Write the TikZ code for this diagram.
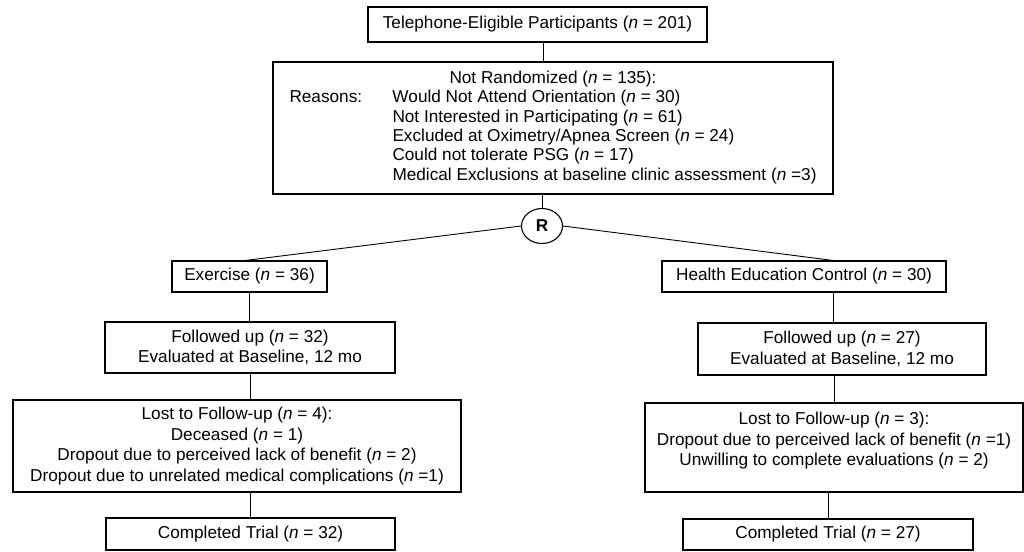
\documentclass[tikz,border=0pt]{standalone}
\usepackage{fontspec}
\setmainfont{Liberation Sans}
\usetikzlibrary{shapes.geometric}
\newcommand{\nn}{\textit{n}}
\begin{document}
\begin{tikzpicture}[x=1pt,y=-1pt,
  box/.style={draw,line width=1.1pt,inner sep=0pt,align=center,font=\fontsize{17.2}{20.5}\selectfont},
  link/.style={line width=0.9pt}]
\useasboundingbox (0,0) rectangle (1024,551);
\node[box,minimum width=339,minimum height=35] (tel) at (537.5,24.5) {Telephone-Eligible Participants (\nn{} = 201)};
\node[box,minimum width=560,minimum height=132,font=\fontsize{17.2}{19.4}\selectfont] (nr) at (553,128)
  {\begin{tabular}{@{}p{103pt}@{}l@{}}
   \multicolumn{2}{c}{Not Randomized (\nn{} = 135):}\\
   Reasons: & Would Not Attend Orientation (\nn{} = 30)\\
            & Not Interested in Participating (\nn{} = 61)\\
            & Excluded at Oximetry/Apnea Screen (\nn{} = 24)\\
            & Could not tolerate PSG (\nn{} = 17)\\
            & Medical Exclusions at baseline clinic assessment (\nn{} =3)
   \end{tabular}};
\node[draw,ellipse,line width=1.1pt,minimum width=41,minimum height=35,inner sep=0pt,font=\bfseries\fontsize{17.2}{20}\selectfont] (rand) at (542,226) {R};
% exercise arm
\node[box,minimum width=155,minimum height=31] (ex) at (249.5,276.5) {Exercise (\nn{} = 36)};
\node[box,minimum width=290,minimum height=51] (fuL) at (250,347.5) {Followed up (\nn{} = 32)\\Evaluated at Baseline, 12 mo};
\node[box,minimum width=448,minimum height=92] (lostL) at (237,446) {Lost to Follow-up (\nn{} = 4):\\Deceased (\nn{} = 1)\\Dropout due to perceived lack of benefit (\nn{} = 2)\\Dropout due to unrelated medical complications (\nn{} =1)};
\node[box,minimum width=289,minimum height=32] (compL) at (250.5,534) {Completed Trial (\nn{} = 32)};
% control arm
\node[box,minimum width=284,minimum height=31] (hec) at (804,276.5) {Health Education Control (\nn{} = 30)};
\node[box,minimum width=288,minimum height=52] (fuR) at (842,349) {Followed up (\nn{} = 27)\\Evaluated at Baseline, 12 mo};
\node[box,minimum width=378,minimum height=89] (lostR) at (834,447.5) {Lost to Follow-up (\nn{} = 3):\\Dropout due to perceived lack of benefit (\nn{} =1)\\Unwilling to complete evaluations (\nn{} = 2)\\[-4pt]\mbox{}};
\node[box,minimum width=290,minimum height=31] (compR) at (828,534.5) {Completed Trial (\nn{} = 27)};
% connectors
\draw[link] ([xshift=5.5pt]tel.south) -- ([xshift=5.5pt]tel.south |- nr.north);
\draw[link] (rand.north |- nr.south) -- (rand.north);
\draw[link] (rand.west) -- ([xshift=-4pt]ex.north);
\draw[link] (rand.east) -- ([xshift=29pt]hec.north);
\draw[link] (ex.south) -- (ex.south |- fuL.north);
\draw[link] (fuL.south) -- (fuL.south |- lostL.north);
\draw[link] (compL.north |- lostL.south) -- (compL.north);
\draw[link] ([xshift=29pt]hec.south) -- ([xshift=29pt]hec.south |- fuR.north);
\draw[link] (lostR.north |- fuR.south) -- (lostR.north);
\draw[link] (compR.north |- lostR.south) -- (compR.north);
\end{tikzpicture}
\end{document}
